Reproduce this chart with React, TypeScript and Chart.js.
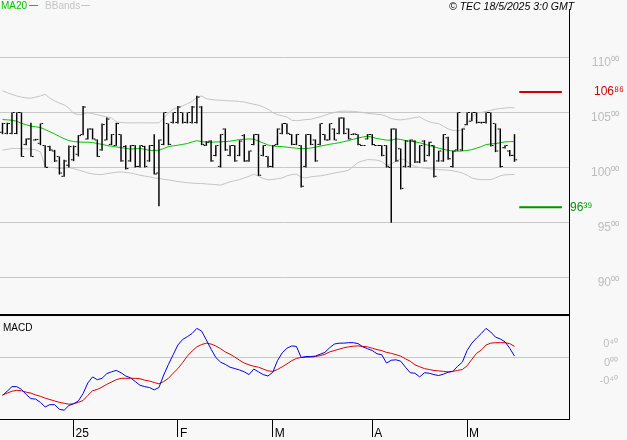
import React, { useEffect, useRef } from "react";
import { Chart, registerables } from "chart.js";

Chart.register(...registerables);

// ---------- data ----------
const dates = [
  "2024-12-09","2024-12-10","2024-12-11","2024-12-12","2024-12-13","2024-12-16","2024-12-17","2024-12-18","2024-12-19","2024-12-20","2024-12-23","2024-12-24","2024-12-27","2024-12-30","2024-12-31",
  "2025-01-02","2025-01-03","2025-01-06","2025-01-07","2025-01-08","2025-01-09","2025-01-10","2025-01-13","2025-01-14","2025-01-15","2025-01-16","2025-01-17","2025-01-20","2025-01-21","2025-01-22","2025-01-23","2025-01-24","2025-01-27","2025-01-28","2025-01-29","2025-01-30","2025-01-31",
  "2025-02-03","2025-02-04","2025-02-05","2025-02-06","2025-02-07","2025-02-10","2025-02-11","2025-02-12","2025-02-13","2025-02-14","2025-02-17","2025-02-18","2025-02-19","2025-02-20","2025-02-21","2025-02-24","2025-02-25","2025-02-26","2025-02-27","2025-02-28",
  "2025-03-03","2025-03-04","2025-03-05","2025-03-06","2025-03-07","2025-03-10","2025-03-11","2025-03-12","2025-03-13","2025-03-14","2025-03-17","2025-03-18","2025-03-19","2025-03-20","2025-03-21","2025-03-24","2025-03-25","2025-03-26","2025-03-27","2025-03-28","2025-03-31",
  "2025-04-01","2025-04-02","2025-04-03","2025-04-04","2025-04-07","2025-04-08","2025-04-09","2025-04-10","2025-04-11","2025-04-14","2025-04-15","2025-04-16","2025-04-17","2025-04-22","2025-04-23","2025-04-24","2025-04-25","2025-04-28","2025-04-29","2025-04-30",
  "2025-05-02","2025-05-05","2025-05-06","2025-05-07","2025-05-08","2025-05-09","2025-05-12","2025-05-13","2025-05-14","2025-05-15","2025-05-16",
];

const opens = [
  103.2,103.1,103.1,103.1,105.0,102.1,102.6,102.5,102.2,102.0,
  101.9,101.5,101.0,99.2,100.2,100.7,101.2,103.0,102.6,103.5,
  102.5,101.6,102.5,102.1,102.0,103.0,101.9,100.6,102.0,100.1,
  101.9,100.6,102.0,99.5,102.1,104.0,104.1,104.1,105.0,104.1,
  104.1,104.1,105.5,102.0,102.4,101.1,100.1,103.5,101.1,102.0,
  101.1,102.9,100.6,102.1,103.0,101.1,101.0,100.1,102.1,103.1,
  104.0,103.0,102.1,102.0,100.1,103.0,102.5,102.1,103.0,102.5,
  103.5,103.1,104.5,103.5,103.0,103.0,102.0,102.6,103.0,102.0,
  102.0,102.0,100.0,103.5,101.7,100.1,100.1,102.4,100.5,102.4,
  101.1,102.0,100.6,100.6,102.7,100.1,101.6,101.6,103.9,104.2,
  105.0,104.1,104.1,105.0,104.0,103.5,101.8,101.5,101.1,
];
const highs = [
  104.06,104.06,105.0,105.0,105.0,102.64,104.06,102.6,104.0,102.03,
  101.97,101.6,101.0,100.7,102.0,102.0,102.94,105.58,103.55,103.55,
  102.55,104.0,104.55,103.03,104.06,103.03,102.03,102.03,102.03,102.03,
  101.97,102.03,103.03,102.55,105.0,104.0,105.0,105.58,105.0,105.0,
  105.58,106.52,105.58,102.39,102.48,102.03,103.03,103.55,102.03,102.03,
  102.48,103.03,101.52,103.03,103.03,102.03,101.03,102.03,103.55,104.0,
  104.0,103.03,103.03,102.03,103.03,103.03,102.55,104.0,103.03,104.0,
  103.55,104.55,104.55,103.55,103.1,103.03,102.05,103.03,103.03,102.05,
  102.03,102.03,103.55,103.55,101.73,102.48,102.55,102.48,102.03,102.48,
  102.33,102.03,101.52,103.03,102.8,101.52,105.0,103.55,105.0,105.0,
  105.0,104.15,105.0,105.0,104.0,103.55,102.03,101.58,103.03,
];
const lows = [
  103.03,103.03,103.03,103.03,100.97,102.03,100.97,102.45,102.03,100.0,
  101.5,100.5,99.36,99.15,100.0,100.58,101.0,102.94,102.55,102.55,
  100.97,101.52,102.48,102.03,101.97,100.52,99.82,100.52,100.0,100.0,
  100.0,100.52,99.36,96.48,102.03,102.03,104.0,104.0,104.0,104.0,
  104.0,104.0,102.03,101.97,100.52,101.03,100.0,101.52,101.03,100.52,
  101.03,100.52,100.52,102.03,99.24,101.03,100.0,100.0,102.03,103.03,
  103.03,102.03,102.03,98.18,100.0,102.03,100.52,102.03,102.48,102.48,
  102.48,103.03,103.03,102.55,102.95,102.03,101.97,102.55,102.03,101.97,
  101.03,100.0,94.97,100.52,98.0,100.0,100.0,100.4,100.4,100.52,
  101.03,99.09,100.52,100.52,100.7,100.0,101.52,101.52,103.85,104.2,
  104.0,104.0,104.0,101.9,101.4,100.0,101.73,101.03,100.52,
];
const closes = [
  104.0,104.0,105.0,105.0,101.0,102.6,101.0,102.55,104.0,100.0,
  101.6,100.6,99.5,100.6,101.9,101.9,102.9,105.5,103.5,102.6,
  101.0,103.9,104.4,103.0,104.0,100.6,99.9,102.0,100.1,102.0,
  100.1,102.0,99.4,102.5,105.0,102.1,105.0,105.5,104.1,105.0,
  105.5,106.4,102.1,102.3,100.6,102.0,103.0,101.6,102.0,100.6,
  102.4,100.6,101.5,103.0,99.3,102.0,100.1,102.0,103.5,104.0,
  103.1,102.1,103.0,98.3,103.0,102.1,100.6,104.0,102.5,104.0,
  102.5,104.5,103.1,102.6,103.05,102.1,102.0,103.0,102.1,102.0,
  101.1,100.1,103.5,100.6,98.1,102.4,102.5,100.5,102.0,100.6,
  102.3,99.2,101.5,103.0,100.8,101.5,105.0,103.5,105.0,105.0,
  104.1,104.1,105.0,102.0,101.5,100.1,102.0,101.1,100.7,
];
const ma20 = [
  104.36,104.33,104.3,104.2,104.02,103.88,103.76,103.7,103.64,103.45,
  103.25,103.05,102.82,102.62,102.45,102.36,102.32,102.3,102.3,102.27,
  102.18,102.1,102.0,101.93,101.87,101.81,101.74,101.67,101.7,101.73,
  101.65,101.56,101.55,101.57,101.73,101.9,101.97,102.03,102.1,102.18,
  102.32,102.44,102.35,102.31,102.3,102.32,102.33,102.36,102.39,102.46,
  102.54,102.57,102.6,102.57,102.4,102.23,102.05,101.95,101.92,101.9,
  101.85,101.8,101.75,101.7,101.73,101.77,101.85,101.94,102.02,102.11,
  102.18,102.25,102.35,102.45,102.56,102.68,102.77,102.85,102.75,102.64,
  102.56,102.49,102.48,102.6,102.55,102.45,102.39,102.32,102.25,102.12,
  102.0,101.88,101.76,101.66,101.56,101.5,101.48,101.5,101.55,101.62,
  101.76,101.9,102.08,102.14,102.17,102.25,102.33,102.35,102.36,
];
const bbUpper = [
  106.97,106.8,106.65,106.5,106.4,106.32,106.3,106.4,106.5,106.65,
  106.3,106.05,105.85,105.7,105.4,104.9,104.82,104.85,104.97,104.9,
  104.8,104.7,104.6,104.5,104.15,104.1,104.06,104.06,104.06,104.06,
  104.06,104.06,104.06,104.06,104.5,104.95,105.3,105.45,105.6,105.8,
  106.0,106.4,106.5,106.25,106.18,106.14,106.12,106.08,106.06,106.04,
  106.0,105.95,105.85,105.75,105.67,105.5,105.3,105.0,104.8,104.7,
  104.6,104.3,104.25,104.3,104.36,104.38,104.5,104.6,104.75,104.9,
  105.0,105.1,105.12,105.12,105.1,105.05,105.0,104.92,104.88,104.84,
  104.8,104.65,104.45,104.36,104.33,104.38,104.45,104.55,104.6,104.35,
  104.15,104.05,104.0,103.75,103.5,103.38,103.33,103.45,104.0,104.6,
  104.95,105.0,105.1,105.2,105.3,105.36,105.4,105.45,105.42,
];
const bbLower = [
  101.58,101.65,101.73,101.73,101.72,101.7,101.67,101.6,101.42,100.12,
  100.0,100.0,99.9,99.95,100.0,99.9,99.78,99.65,99.5,99.42,
  99.37,99.36,99.45,99.5,99.57,99.6,99.55,99.5,99.4,99.3,
  99.22,99.15,99.05,99.0,98.93,98.87,98.8,98.72,98.67,98.62,
  98.58,98.55,98.55,98.5,98.48,98.44,98.4,98.55,98.7,98.8,
  98.9,99.05,99.2,99.4,99.2,99.0,98.88,98.9,98.98,99.05,
  99.25,99.35,99.4,99.12,99.05,99.15,99.2,99.24,99.32,99.4,
  99.5,99.58,99.65,99.75,100.1,100.45,100.6,100.72,100.7,100.67,
  100.55,100.2,100.3,100.6,100.8,100.68,100.3,100.1,100.0,99.95,
  99.9,99.85,99.8,99.78,99.76,99.7,99.62,99.5,99.3,99.05,
  98.95,98.9,98.9,98.9,99.05,99.25,99.33,99.36,99.36,
];
const macd = [
  -0.82,-0.73,-0.63,-0.63,-0.69,-0.80,-0.89,-0.90,-0.97,-1.07,
  -1.02,-1.02,-1.12,-1.14,-1.04,-1.0,-0.94,-0.78,-0.55,-0.42,
  -0.48,-0.45,-0.35,-0.31,-0.28,-0.33,-0.40,-0.44,-0.52,-0.60,
  -0.63,-0.65,-0.70,-0.65,-0.38,-0.15,0.06,0.27,0.39,0.45,
  0.52,0.63,0.57,0.38,0.18,0.0,-0.10,-0.15,-0.21,-0.24,
  -0.27,-0.31,-0.37,-0.25,-0.31,-0.37,-0.40,-0.32,-0.07,0.10,
  0.20,0.25,0.24,0.0,0.02,0.02,0.03,0.07,0.11,0.21,
  0.29,0.31,0.31,0.32,0.32,0.30,0.23,0.19,0.15,0.08,
  0.06,-0.12,-0.06,-0.05,-0.08,-0.21,-0.33,-0.34,-0.42,-0.33,
  -0.34,-0.37,-0.39,-0.36,-0.32,-0.30,-0.19,-0.10,0.15,0.31,
  0.42,0.52,0.63,0.55,0.44,0.40,0.34,0.20,0.03,
];
const signal = [
  -0.81,-0.77,-0.73,-0.71,-0.72,-0.75,-0.77,-0.81,-0.84,-0.88,
  -0.91,-0.94,-0.97,-0.99,-1.01,-1.0,-0.97,-0.93,-0.82,-0.72,
  -0.69,-0.64,-0.58,-0.53,-0.48,-0.45,-0.45,-0.45,-0.45,-0.46,
  -0.49,-0.51,-0.54,-0.57,-0.52,-0.45,-0.34,-0.24,-0.11,0.03,
  0.14,0.23,0.28,0.31,0.29,0.25,0.19,0.12,0.07,0.01,
  -0.06,-0.12,-0.16,-0.19,-0.21,-0.25,-0.29,-0.30,-0.26,-0.20,
  -0.14,-0.07,-0.02,0.0,0.007,0.01,0.02,0.04,0.07,0.12,
  0.15,0.18,0.21,0.23,0.245,0.25,0.24,0.23,0.20,0.17,
  0.15,0.11,0.09,0.06,0.03,-0.03,-0.08,-0.16,-0.20,-0.24,
  -0.26,-0.28,-0.29,-0.30,-0.31,-0.30,-0.28,-0.26,-0.18,-0.04,
  0.09,0.16,0.27,0.31,0.32,0.32,0.32,0.30,0.24,
];

const priceTicks = [90, 95, 100, 105, 110];
const macdTicks = [-0.4, 0, 0.4];
const monthLabels = ["25", "F", "M", "A", "M"];
const levelHigh = 106.86;
const levelLow = 96.39;
const levelSpan = [109, 118]; // bar-index span of the level marks

// ---------- styling / layout ----------
const FONT = '"Liberation Sans", Arial, Helvetica, sans-serif';
const GRID = "#c8c8c8";
const TICK_TEXT = "#bdbdbd";
const MA_COLOR = "#00c400";
const BB_COLOR = "#c4c4c4";
const UP_COLOR = "#d40000";
const DN_COLOR = "#009600";
const MACD_COLOR = "#0000ee";
const SIG_COLOR = "#dd0000";

const W = 627;
const TOP_H = 316;
const BOT_H = 124;
const PLOT_RIGHT = 569;
const TOP_LABEL_RIGHT = 619;
const BOT_LABEL_RIGHT = 618;
const X_MIN = -0.5273;
const X_MAX = 119.497;
const PRICE_MIN = 86.591;
const PRICE_MAX = 114.409;
const MACD_MIN = -1.33;
const MACD_MAX = 0.897;
const TICK_H = 0.045;

const SUP = "⁰¹²³⁴⁵⁶⁷⁸⁹";
function fmt(v: number): string {
  const neg = v < -1e-9;
  const s = Math.abs(v).toFixed(2);
  const [ip, dp] = s.split(".");
  return (neg ? "-" : "") + ip + dp.split("").map((d) => SUP[Number(d)]).join("");
}

const monthStarts = dates
  .map((d, i) => (i > 0 && d.slice(5, 7) !== dates[i - 1].slice(5, 7) ? i : -1))
  .filter((i) => i >= 0);

const pts = (arr: number[]) => arr.map((v, i) => ({ x: i, y: v }));

const noPad = (s: any) => {
  s.paddingTop = 0;
  s.paddingBottom = 0;
  s.paddingLeft = 0;
  s.paddingRight = 0;
};

const topDecor = {
  id: "topDecor",
  afterDraw(chart: any) {
    const { ctx, chartArea, scales } = chart;
    ctx.save();
    ctx.textBaseline = "alphabetic";
    ctx.textAlign = "left";
    ctx.font = `10px ${FONT}`;
    ctx.fillStyle = MA_COLOR;
    ctx.fillText("MA20", 1, 9);
    const w1 = ctx.measureText("MA20").width;
    ctx.fillRect(1 + w1 + 2, 5, 9, 1);
    ctx.fillStyle = BB_COLOR;
    const bx = 1 + w1 + 2 + 9 + 7;
    ctx.fillText("BBands", bx, 9);
    const w2 = ctx.measureText("BBands").width;
    ctx.fillRect(bx + w2 + 1, 5, 9, 1);
    ctx.fillStyle = "#000";
    ctx.font = `italic 10.5px ${FONT}`;
    ctx.fillText("© TEC 18/5/2025 3:0 GMT", 449, 10);
    ctx.font = `12px ${FONT}`;
    ctx.textBaseline = "middle";
    ctx.fillStyle = UP_COLOR;
    ctx.fillText(fmt(levelHigh), chartArea.right + 25, scales.y.getPixelForValue(levelHigh));
    ctx.fillStyle = DN_COLOR;
    ctx.fillText(fmt(levelLow), chartArea.right + 1, scales.y.getPixelForValue(levelLow));
    ctx.restore();
  },
};

const botDecor = {
  id: "botDecor",
  afterDraw(chart: any) {
    const { ctx } = chart;
    ctx.save();
    ctx.font = `10px ${FONT}`;
    ctx.fillStyle = "#000";
    ctx.textBaseline = "alphabetic";
    ctx.fillText("MACD", 3, 15);
    ctx.restore();
  },
};

export default function App() {
  const topRef = useRef<HTMLCanvasElement>(null);
  const botRef = useRef<HTMLCanvasElement>(null);

  useEffect(() => {
    const ohlcCommon = {
      type: "bar" as const,
      backgroundColor: "#000",
      borderWidth: 0,
      inflateAmount: 0,
      order: 0,
    };

    const top = new Chart(topRef.current!, {
      type: "bar",
      data: {
        datasets: [
          { type: "line", label: "BBands upper", data: pts(bbUpper), borderColor: BB_COLOR, borderWidth: 1, pointRadius: 0, order: 3 } as any,
          { type: "line", label: "BBands lower", data: pts(bbLower), borderColor: BB_COLOR, borderWidth: 1, pointRadius: 0, order: 3 } as any,
          { type: "line", label: "MA20", data: pts(ma20), borderColor: MA_COLOR, borderWidth: 1, pointRadius: 0, order: 2 } as any,
          { ...ohlcCommon, label: "Open", data: opens.map((v, i) => ({ x: i, y: [v - TICK_H, v + TICK_H] })), barThickness: 1.8 } as any,
          { ...ohlcCommon, label: "High-Low", data: highs.map((h, i) => ({ x: i, y: [lows[i], h] })), barThickness: 1.45 } as any,
          { ...ohlcCommon, label: "Close", data: closes.map((v, i) => ({ x: i, y: [v - TICK_H, v + TICK_H] })), barThickness: 1.8 } as any,
          { type: "line", label: "106.86", data: levelSpan.map((x) => ({ x, y: levelHigh })), borderColor: UP_COLOR, borderWidth: 2, pointRadius: 0, order: 1 } as any,
          { type: "line", label: "96.39", data: levelSpan.map((x) => ({ x, y: levelLow })), borderColor: DN_COLOR, borderWidth: 2, pointRadius: 0, order: 1 } as any,
        ],
      },
      options: {
        animation: false,
        responsive: false,
        maintainAspectRatio: false,
        layout: { padding: { top: 9, left: 0, right: W - TOP_LABEL_RIGHT, bottom: 0 } },
        plugins: { legend: { display: false }, tooltip: { enabled: false }, title: { display: false } },
        scales: {
          x: {
            type: "linear",
            min: X_MIN,
            max: X_MAX,
            offset: false,
            grid: { display: false },
            ticks: { display: false },
            border: { display: true, color: "#000", width: 2 },
            afterFit: (s: any) => { s.height = 1; noPad(s); },
          },
          y: {
            type: "linear",
            position: "right",
            min: PRICE_MIN,
            max: PRICE_MAX,
            afterBuildTicks: (s: any) => { s.ticks = priceTicks.map((v) => ({ value: v })); },
            grid: { color: GRID, drawTicks: false, lineWidth: 1 },
            border: { display: true, color: "#000", width: 1 },
            ticks: {
              callback: (v: any) => fmt(Number(v)),
              color: TICK_TEXT,
              font: { family: FONT, size: 12 },
              crossAlign: "far",
              padding: 0,
              labelOffset: 5,
              autoSkip: false,
            },
            afterFit: (s: any) => { s.width = TOP_LABEL_RIGHT - PLOT_RIGHT; noPad(s); },
          },
        },
      } as any,
      plugins: [topDecor],
    });

    const bot = new Chart(botRef.current!, {
      type: "line",
      data: {
        datasets: [
          { label: "MACD", data: pts(macd), borderColor: MACD_COLOR, borderWidth: 1, pointRadius: 0 },
          { label: "Signal", data: pts(signal), borderColor: SIG_COLOR, borderWidth: 1, pointRadius: 0 },
        ],
      },
      options: {
        animation: false,
        responsive: false,
        maintainAspectRatio: false,
        layout: { padding: { top: 0, left: 0, right: W - BOT_LABEL_RIGHT, bottom: 0 } },
        plugins: { legend: { display: false }, tooltip: { enabled: false } },
        scales: {
          x: {
            type: "linear",
            min: X_MIN,
            max: X_MAX,
            offset: false,
            afterBuildTicks: (s: any) => { s.ticks = monthStarts.map((v) => ({ value: v })); },
            grid: { display: true, drawOnChartArea: false, drawTicks: true, tickLength: 18, color: "#000", lineWidth: 1 },
            border: { display: true, color: "#000", width: 1 },
            ticks: {
              callback: (_v: any, idx: number) => monthLabels[idx],
              color: "#000",
              font: { family: FONT, size: 12 },
              align: "start",
              labelOffset: 2,
              padding: -11,
              autoSkip: false,
              maxRotation: 0,
              minRotation: 0,
            },
            afterFit: (s: any) => { s.height = 21; noPad(s); },
          },
          y: {
            type: "linear",
            position: "right",
            min: MACD_MIN,
            max: MACD_MAX,
            afterBuildTicks: (s: any) => { s.ticks = macdTicks.map((v) => ({ value: v })); },
            grid: {
              drawTicks: false,
              lineWidth: 1,
              color: (c: any) => (c.tick && Math.abs(c.tick.value) < 1e-9 ? GRID : "rgba(0,0,0,0)"),
            },
            border: { display: true, color: "#000", width: 1 },
            ticks: {
              callback: (v: any) => fmt(Number(v)),
              color: TICK_TEXT,
              font: { family: FONT, size: 11 },
              crossAlign: "far",
              padding: 0,
              labelOffset: 5,
              autoSkip: false,
            },
            afterFit: (s: any) => { s.width = BOT_LABEL_RIGHT - PLOT_RIGHT; noPad(s); },
          },
        },
      } as any,
      plugins: [botDecor],
    });

    return () => {
      top.destroy();
      bot.destroy();
    };
  }, []);

  return (
    <div style={{ position: "fixed", left: 0, top: 0, width: W, height: TOP_H + BOT_H, background: "#f8f8f8", overflow: "hidden" }}>
      <canvas ref={topRef} width={W} height={TOP_H} style={{ position: "absolute", left: 0, top: 0, width: W, height: TOP_H }} />
      <canvas ref={botRef} width={W} height={BOT_H} style={{ position: "absolute", left: 0, top: TOP_H, width: W, height: BOT_H }} />
    </div>
  );
}
